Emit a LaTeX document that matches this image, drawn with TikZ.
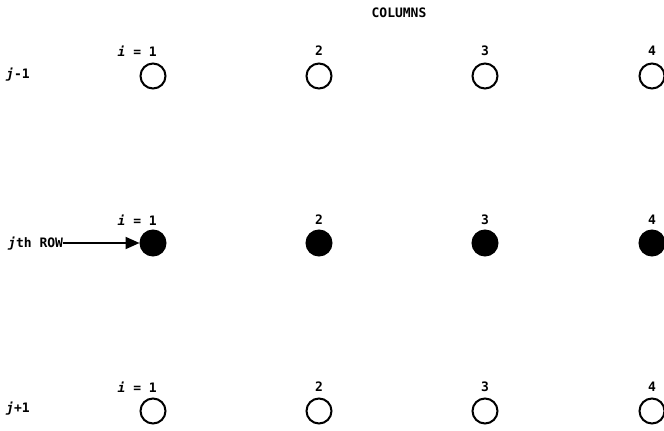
\documentclass[tikz,border=0pt]{standalone}
\usepackage{fontspec}
\setmainfont{DejaVu Sans Mono}
\usetikzlibrary{arrows.meta}
\tikzset{
  pt/.style={circle,draw=black,line width=2pt,minimum size=25pt,inner sep=0pt},
  open/.style={pt,fill=white},
  full/.style={pt,fill=black},
  lab/.style={font=\bfseries\fontsize{13}{13}\selectfont,inner sep=0pt},
  arr/.style={line width=2pt,-{Triangle[length=14pt,width=12pt]}}
}
\begin{document}
\begin{tikzpicture}[x=1pt,y=-1pt]
\useasboundingbox[fill=white] (0,0) rectangle (664,431);
% circles
\foreach \r/\y/\s in {a/76/open,b/243/full,c/411/open}{
  \foreach \k/\x in {1/153,2/319,3/485,4/652}{
    \node[\s] (\r\k) at (\x,\y) {};
  }
}
% column labels
\foreach \r/\y in {a/51,b/220,c/387}{
  \node[lab,anchor=east] (\r l1) at (157,\y) {\textit{i} = 1};
  \node[lab] (\r l2) at (319,\y) {2};
  \node[lab] (\r l3) at (485,\y) {3};
  \node[lab] (\r l4) at (652,\y) {4};
}
\node[lab] (cols) at (399,13) {COLUMNS};
% row labels
\node[lab,anchor=west] (rowa) at (6,75) {\textit{j}-1};
\node[lab,anchor=west] (rowb) at (8,244) {\textit{j}th ROW};
\node[lab,anchor=west] (rowc) at (6,409) {\textit{j}+1};
\draw[arr] (rowb.east |- b1) -- (b1.west);
\end{tikzpicture}
\end{document}
